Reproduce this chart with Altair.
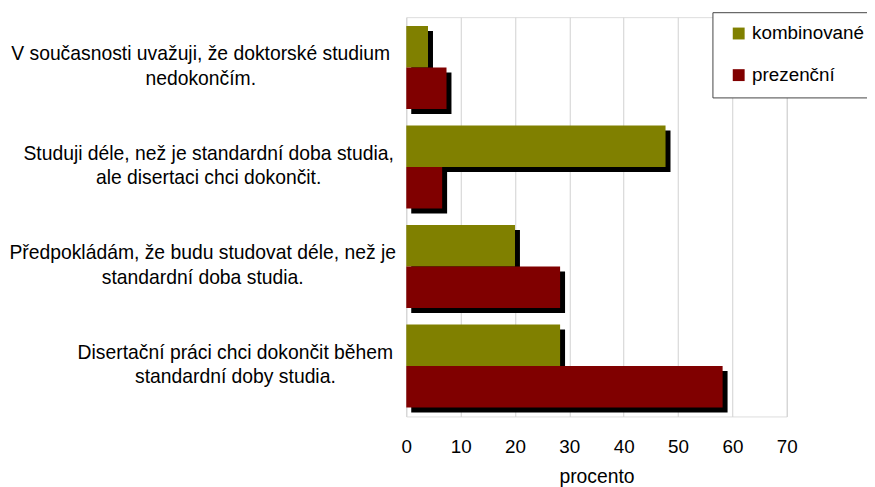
import json
import altair as alt
import pandas as pd

categories = [
    "V současnosti uvažuji, že doktorské studium\nnedokončím.",
    "Studuji déle, než je standardní doba studia,\nale disertaci chci dokončit.",
    "Předpokládám, že budu studovat déle, než je\nstandardní doba studia.",
    "Disertační práci chci dokončit během\nstandardní doby studia.",
]
series = ["kombinované", "prezenční"]
kombinovane = [4.0, 47.7, 20.0, 28.3]
prezencni = [7.4, 6.6, 28.3, 58.2]
colors = ["#808000", "#800000"]
x_ticks = [0, 10, 20, 30, 40, 50, 60, 70]

# horizontal placement of each (centred) two-line label block
label_pad = [208, 200, 206, 173]

rows = []
for c, k, p in zip(categories, kombinovane, prezencni):
    rows.append({"cat": c, "serie": series[0], "val": k})
    rows.append({"cat": c, "serie": series[1], "val": p})
df = pd.DataFrame(rows)

pad_expr = "%s[indexof(%s, datum.value)]" % (
    json.dumps(label_pad), json.dumps(categories, ensure_ascii=False)
)

FONT = "Liberation Sans"

x_axis = alt.Axis(
    values=x_ticks, title="procento", grid=True, gridColor="#d0d0d0", gridWidth=1,
    domain=False, ticks=False, tickSize=0, labelFontSize=19, labelColor="black",
    labelPadding=21, labelFlush=False, titleFontSize=19.5, titleFontWeight="normal",
    titleColor="black", titlePadding=12, labelFont=FONT, titleFont=FONT,
)
y_axis = alt.Axis(
    title=None, domain=False, ticks=False, grid=False, labelAlign="center",
    labelBaseline="middle", labelPadding=alt.ExprRef(pad_expr), labelLineHeight=25,
    labelOffset=-13.5, labelFontSize=19.5, labelColor="black", labelLimit=0,
    labelFont=FONT, labelExpr="split(datum.label, '\\n')",
)

x_enc = alt.X("val:Q", scale=alt.Scale(domain=[0, 70], nice=False), axis=x_axis)
y_enc = alt.Y("cat:N", sort=categories,
              scale=alt.Scale(paddingInner=0.166, paddingOuter=0.089), axis=y_axis)

base = alt.Chart(df)

shadow = base.mark_bar(color="black", xOffset=5).encode(
    x=x_enc, y=y_enc,
    yOffset=alt.YOffset(
        "serie:N", sort=series,
        scale=alt.Scale(paddingInner=0, paddingOuter=0,
                        range=[alt.ExprRef("5"), alt.ExprRef("bandwidth('y') + 5")]),
    ),
)

bars = base.mark_bar().encode(
    x=x_enc, y=y_enc,
    yOffset=alt.YOffset("serie:N", sort=series,
                        scale=alt.Scale(paddingInner=0, paddingOuter=0)),
    color=alt.Color(
        "serie:N", sort=series,
        scale=alt.Scale(domain=series, range=colors),
        legend=alt.Legend(
            title=None, orient="none", legendX=309, legendY=-5,
            strokeColor="#444", fillColor="white", padding=12,
            symbolType="square", symbolSize=144, symbolStrokeWidth=0, symbolOffset=5,
            labelFontSize=19, labelFont=FONT, labelColor="black", labelOffset=4,
            rowPadding=22, labelLimit=0,
        ),
    ),
)

chart = (
    alt.layer(shadow, bars)
    .resolve_scale(yOffset="independent")
    .properties(
        width=384, height=403, autosize="none",
        padding={"left": 402, "top": 7, "right": 81, "bottom": 72},
    )
    .configure_view(stroke=None)
    .configure(font=FONT)
)

chart.save("out.html", embed_options={"renderer": "svg", "actions": False})
